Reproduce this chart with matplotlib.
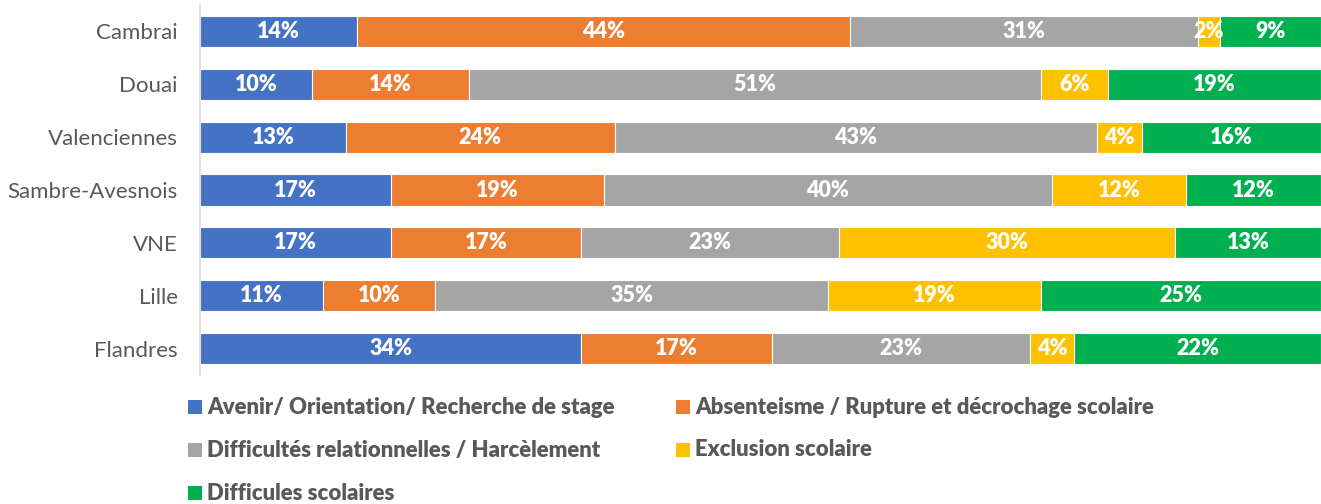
import matplotlib
matplotlib.use("Agg")
import matplotlib.pyplot as plt
from matplotlib.patches import Rectangle
import numpy as np

categories = ["Cambrai", "Douai", "Valenciennes", "Sambre-Avesnois", "VNE", "Lille", "Flandres"]
series_names = [
    "Avenir/ Orientation/ Recherche de stage",
    "Absenteisme / Rupture et décrochage scolaire",
    "Difficultés relationnelles / Harcèlement",
    "Exclusion scolaire",
    "Difficules scolaires",
]
avenir = [14, 10, 13, 17, 17, 11, 34]
absenteisme = [44, 14, 24, 19, 17, 10, 17]
difficultes_rel = [31, 51, 43, 40, 23, 35, 23]
exclusion = [2, 6, 4, 12, 30, 19, 4]
difficules_scol = [9, 19, 16, 12, 13, 25, 22]
colors = ["#4472C4", "#ED7D31", "#A5A5A5", "#FFC000", "#00B050"]

plt.rcParams['font.family'] = ['Lato', 'DejaVu Sans']

W, H = 1321, 504
fig = plt.figure(figsize=(W / 100, H / 100), dpi=100)
ax = fig.add_axes([200 / W, 1 - 375 / H, 1121 / W, 370 / H])

series = [avenir, absenteisme, difficultes_rel, exclusion, difficules_scol]
y = np.arange(len(categories))
left = np.zeros(len(categories))
for vals, c in zip(series, colors):
    vals = np.array(vals, dtype=float)
    bars = ax.barh(y, vals, left=left, height=0.59, color=c, edgecolor="white", linewidth=0.8)
    for b, v in zip(bars, vals):
        ax.text(b.get_x() + b.get_width() / 2, b.get_y() + b.get_height() / 2,
                f"{v:.0f}%", ha="center", va="center", color="white",
                fontsize=15.5, fontweight="heavy")
    left += vals

ax.set_xlim(0, 100)
ax.set_ylim(len(categories) - 0.5, -0.5)
ax.set_yticks(y)
ax.set_yticklabels(categories, fontsize=16, color="#595959")
ax.tick_params(axis="y", length=0, pad=16)
ax.set_xticks([])
for s in ["top", "right", "bottom"]:
    ax.spines[s].set_visible(False)
ax.spines["left"].set_color("#D9D9D9")
ax.spines["left"].set_linewidth(1.2)

# legend, row-major in two columns
col_x = [188, 676]
row_y = [407, 450, 493]
for i, (name, c) in enumerate(zip(series_names, colors)):
    r, cidx = divmod(i, 2)
    x0 = col_x[cidx]
    yc = row_y[r]
    fig.patches.append(Rectangle((x0 / W, 1 - (yc + 7) / H), 14 / W, 14 / H,
                                 transform=fig.transFigure, facecolor=c, edgecolor="none"))
    fig.text((x0 + 19) / W, 1 - yc / H, name, ha="left", va="center",
             fontsize=15.9, fontweight="heavy", color="#595959")

fig.savefig("out.png", dpi=100)
